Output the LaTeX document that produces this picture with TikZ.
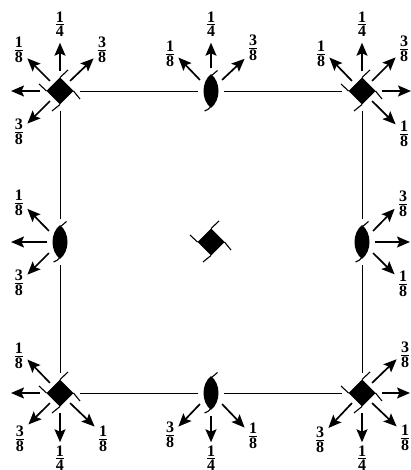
\documentclass[tikz,border=0pt]{standalone}
\usepackage{fontspec}
\setmainfont{Liberation Serif}
\usetikzlibrary{shapes.geometric, arrows.meta, positioning}

\newcommand{\share}[2]{$\textstyle{\mbox{#1}\above 1pt\mbox{#2}}$}

\begin{document}
\begin{tikzpicture}[
    x=1pt, y=1pt, on grid,
    cube/.style={diamond, aspect=1, minimum width=40pt, minimum height=40pt, inner sep=0pt},
    lens/.style={ellipse, minimum width=25pt, minimum height=45pt, inner sep=0pt},
    cubemark/.pic={
        \fill (0,13.5) -- (13.5,0) -- (0,-13.5) -- (-13.5,0) -- cycle;
        \draw [line width=1.1pt] (0,13.5) -- (8,21) (13.5,0) -- (20,-8) (0,-13.5) -- (-8,-20) (-13.5,0) -- (-21,7);
    },
    lensmark/.pic={
        \fill (0,17) .. controls (-10,9) and (-10,-9) .. (0,-17) .. controls (10,-9) and (10,9) .. (0,17);
        \draw [line width=1.1pt] (6.5,20.5) .. controls (3,18.5) .. (0,15);
        \draw [line width=1.1pt] (0,-15) .. controls (-2,-18) .. (-6.5,-20);
    },
    wire/.style={draw, line width=0.9pt},
    ray/.style={draw, line width=1.7pt, -{Stealth[length=13pt, width=11pt, inset=2.5pt]}},
    axial/.style={ray, shorten >=3pt},
    share/.style={inner sep=3pt, font=\fontsize{16}{16}\selectfont\bfseries}
]
\useasboundingbox (-60,91) rectangle (351,-379);

% Devices
\node [cube] (tl) {};
\node [lens, right=151pt of tl] (top) {};
\node [cube, right=151pt of top] (tr) {};
\node [lens, below=151pt of tl] (lft) {};
\node [cube, below=151pt of top] (mid) {};
\node [lens, below=151pt of tr] (rgt) {};
\node [cube, below=151pt of lft] (bl) {};
\node [lens, below=151pt of mid] (bot) {};
\node [cube, below=151pt of rgt] (br) {};

\pic at (tl) {cubemark};
\pic at (top) {lensmark};
\pic at (tr) {cubemark};
\pic at (lft) {lensmark};
\pic at (mid) {cubemark};
\pic at (rgt) {lensmark};
\pic at (bl) {cubemark};
\pic at (bot) {lensmark};
\pic at (br) {cubemark};

% Square
\draw [wire] (tl) -- (top);
\draw [wire] (top) -- (tr);
\draw [wire] (tr) -- (rgt);
\draw [wire] (rgt) -- (br);
\draw [wire] (br) -- (bot);
\draw [wire] (bot) -- (bl);
\draw [wire] (bl) -- (lft);
\draw [wire] (lft) -- (tl);

% Top left
\node [share, above=67pt of tl] (tlN) {\share{1}{4}};
\node [share, above left=41pt and 41pt of tl] (tlNW) {\share{1}{8}};
\node [share, above right=41pt and 42pt of tl] (tlNE) {\share{3}{8}};
\node [share, below left=41pt and 41pt of tl] (tlSW) {\share{3}{8}};
\coordinate [left=49pt of tl] (tlW);
\draw [axial] (tl.north) -- (tlN);
\draw [ray] (tl.135) -- (tlNW.-45);
\draw [ray] (tl.45) -- (tlNE.225);
\draw [ray] (tl.225) -- (tlSW.45);
\draw [ray] (tl.west) -- (tlW);

% Top middle
\node [share, above=67pt of top] (topN) {\share{1}{4}};
\node [share, above left=37pt and 41pt of top] (topNW) {\share{1}{8}};
\node [share, above right=43pt and 42pt of top] (topNE) {\share{3}{8}};
\draw [axial] (top.north) -- (topN);
\draw [ray] (top.135) -- (topNW.-23);
\draw [ray] (top.45) -- (topNE.232);

% Top right
\node [share, above=67pt of tr] (trN) {\share{1}{4}};
\node [share, above left=37pt and 41pt of tr] (trNW) {\share{1}{8}};
\node [share, above right=42pt and 42pt of tr] (trNE) {\share{3}{8}};
\node [share, below right=43pt and 42pt of tr] (trSE) {\share{1}{8}};
\coordinate [right=49pt of tr] (trE);
\draw [axial] (tr.north) -- (trN);
\draw [ray] (tr.135) -- (trNW.-23);
\draw [ray] (tr.45) -- (trNE.225);
\draw [ray] (tr.-45) -- (trSE.131);
\draw [ray] (tr.east) -- (trE);

% Left middle
\node [share, above left=39pt and 41pt of lft] (lftNW) {\share{1}{8}};
\node [share, below left=41pt and 41pt of lft] (lftSW) {\share{3}{8}};
\coordinate [left=49pt of lft] (lftW);
\draw [ray] (lft.135) -- (lftNW.-35);
\draw [ray] (lft.225) -- (lftSW.45);
\draw [ray] (lft.west) -- (lftW);

% Right middle
\node [share, above right=38pt and 41pt of rgt] (rgtNE) {\share{3}{8}};
\node [share, below right=42pt and 41pt of rgt] (rgtSE) {\share{1}{8}};
\coordinate [right=48pt of rgt] (rgtE);
\draw [ray] (rgt.45) -- (rgtNE.210);
\draw [ray] (rgt.-45) -- (rgtSE.131);
\draw [ray] (rgt.east) -- (rgtE);

% Bottom left
\node [share, above left=37pt and 41pt of bl] (blNW) {\share{1}{8}};
\node [share, below left=46pt and 40pt of bl] (blSW) {\share{3}{8}};
\node [share, below right=46pt and 43pt of bl] (blSE) {\share{1}{8}};
\node [share, below=65pt of bl] (blS) {\share{1}{4}};
\coordinate [left=49pt of bl] (blW);
\draw [ray] (bl.135) -- (blNW.-23);
\draw [ray] (bl.225) -- (blSW.60);
\draw [ray] (bl.-45) -- (blSE.124);
\draw [ray] (bl.south) -- (blS);
\draw [ray] (bl.west) -- (blW);

% Bottom middle
\node [share, below left=42pt and 41pt of bot] (botSW) {\share{3}{8}};
\node [share, below right=43pt and 42pt of bot] (botSE) {\share{1}{8}};
\node [share, below=65pt of bot] (botS) {\share{1}{4}};
\draw [ray] (bot.225) -- (botSW.45);
\draw [ray] (bot.-45) -- (botSE.135);
\draw [ray] (bot.south) -- (botS);

% Bottom right
\node [share, above right=38pt and 43pt of br] (brNE) {\share{3}{8}};
\node [share, below left=47pt and 42pt of br] (brSW) {\share{3}{8}};
\node [share, below right=45pt and 43pt of br] (brSE) {\share{1}{8}};
\node [share, below=65pt of br] (brS) {\share{1}{4}};
\coordinate [right=48pt of br] (brE);
\draw [ray] (br.45) -- (brNE.207);
\draw [ray] (br.225) -- (brSW.55);
\draw [ray] (br.-45) -- (brSE.126);
\draw [ray] (br.south) -- (brS);
\draw [ray] (br.east) -- (brE);

\end{tikzpicture}
\end{document}
